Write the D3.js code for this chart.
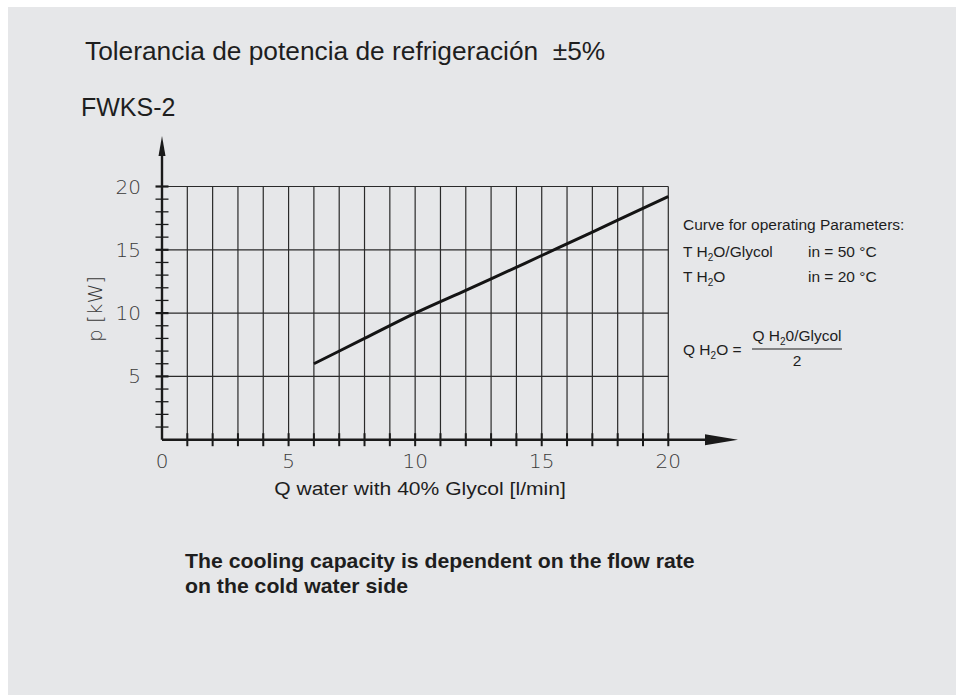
<!DOCTYPE html>
<html>
<head>
<meta charset="utf-8">
<script src="https://cdn.jsdelivr.net/npm/d3@7"></script>
<style>
  body { margin: 0; background: #fff; }
  svg { display: block; }
  .sans { font-family: "Liberation Sans", Arial, sans-serif; fill: #1e1e1e; }
  .tech { font-family: "DejaVu Sans ExtraLight", "DejaVu Sans", sans-serif; font-weight: 200; fill: #3a3a3a; }
</style>
</head>
<body>
<script>
// curve: flow [l/min] -> cooling power [kW]
var flow  = [6, 8, 10, 12, 13, 15, 17, 18, 20];
var power = [6, 8, 10, 11.8, 12.7, 14.55, 16.4, 17.35, 19.2];

var xTicks = [0, 5, 10, 15, 20];
var yTicks = [5, 10, 15, 20];

var width = 959, height = 695;

var svg = d3.select("body").append("svg")
  .attr("width", width)
  .attr("height", height);

svg.append("rect")
  .attr("x", 8).attr("y", 7)
  .attr("width", 948).attr("height", 688)
  .attr("fill", "#e6e7e9");

var x = d3.scaleLinear().domain([0, 20]).range([162, 668.3]);
var y = d3.scaleLinear().domain([0, 20]).range([439.7, 186.5]);

var g = svg.append("g");

// vertical grid, one per l/min
g.selectAll(".vgrid")
  .data(d3.range(1, 21))
  .enter().append("line")
  .attr("x1", function (d) { return x(d); })
  .attr("x2", function (d) { return x(d); })
  .attr("y1", y(0))
  .attr("y2", y(20))
  .attr("stroke", "#2a2a2a")
  .attr("stroke-width", 1.2);

// horizontal grid every 5 kW
g.selectAll(".hgrid")
  .data(yTicks)
  .enter().append("line")
  .attr("x1", x(0))
  .attr("x2", x(20))
  .attr("y1", function (d) { return y(d); })
  .attr("y2", function (d) { return y(d); })
  .attr("stroke", "#2a2a2a")
  .attr("stroke-width", 1.2);

// y minor / major ticks
g.selectAll(".ytick")
  .data(d3.range(1, 21))
  .enter().append("line")
  .attr("x1", x(0) - 6.5)
  .attr("x2", x(0) + 6.5)
  .attr("y1", function (d) { return y(d); })
  .attr("y2", function (d) { return y(d); })
  .attr("stroke", "#1a1a1a")
  .attr("stroke-width", function (d) { return d % 5 === 0 ? 2.2 : 1.3; });

// x ticks
g.selectAll(".xtick")
  .data(d3.range(1, 21))
  .enter().append("line")
  .attr("x1", function (d) { return x(d); })
  .attr("x2", function (d) { return x(d); })
  .attr("y1", y(0) - 6.5)
  .attr("y2", y(0) + 6.5)
  .attr("stroke", "#1a1a1a")
  .attr("stroke-width", 2);

// axes with arrows
g.append("line")
  .attr("x1", x(0)).attr("x2", 712)
  .attr("y1", y(0)).attr("y2", y(0))
  .attr("stroke", "#1a1a1a").attr("stroke-width", 2.4);
g.append("path")
  .attr("d", "M705," + (y(0) - 5.5) + "L738," + y(0) + "L705," + (y(0) + 5.5) + "Z")
  .attr("fill", "#1a1a1a");

g.append("line")
  .attr("x1", x(0)).attr("x2", x(0))
  .attr("y1", y(0)).attr("y2", 150)
  .attr("stroke", "#1a1a1a").attr("stroke-width", 2.4);
g.append("path")
  .attr("d", "M" + (x(0) - 3.5) + ",156L" + x(0) + ",136L" + (x(0) + 3.5) + ",156Z")
  .attr("fill", "#1a1a1a");

// curve
var line = d3.line()
  .x(function (d, i) { return x(flow[i]); })
  .y(function (d, i) { return y(power[i]); })
  .curve(d3.curveMonotoneX);

g.append("path")
  .datum(flow)
  .attr("d", line)
  .attr("fill", "none")
  .attr("stroke", "#141414")
  .attr("stroke-width", 3);

// tick labels
g.selectAll(".ylab")
  .data(yTicks)
  .enter().append("text")
  .attr("class", "tech")
  .attr("x", 141)
  .attr("y", function (d) { return y(d) + 7; })
  .attr("text-anchor", "end")
  .attr("font-size", 20)
  .text(function (d) { return d; });

g.selectAll(".xlab")
  .data(xTicks)
  .enter().append("text")
  .attr("class", "tech")
  .attr("x", function (d) { return x(d); })
  .attr("y", 468)
  .attr("text-anchor", "middle")
  .attr("font-size", 20)
  .text(function (d) { return d; });

svg.append("text")
  .attr("class", "tech")
  .attr("transform", "translate(102,309) rotate(-90)")
  .attr("text-anchor", "middle")
  .attr("font-size", 20)
  .text("p [kW]");

svg.append("text")
  .attr("class", "sans")
  .attr("transform", "translate(420,495) scale(1.11,1)")
  .attr("text-anchor", "middle")
  .attr("font-size", 19)
  .text("Q water with 40% Glycol [l/min]");

// headings
svg.append("text")
  .attr("class", "sans")
  .attr("x", 85).attr("y", 60)
  .attr("font-size", 26.3)
  .text("Tolerancia de potencia de refrigeración\u00a0 ±5%");

svg.append("text")
  .attr("class", "sans")
  .attr("x", 81).attr("y", 116)
  .attr("font-size", 25)
  .text("FWKS-2");

// operating parameters note
var note = svg.append("g").attr("class", "sans").attr("font-size", 15.5);

note.append("text").attr("x", 683).attr("y", 230).text("Curve for operating Parameters:");

var t1 = note.append("text").attr("x", 683).attr("y", 256.7);
t1.append("tspan").text("T H");
t1.append("tspan").attr("font-size", 10).attr("dy", 4).text("2");
t1.append("tspan").attr("dy", -4).text("O/Glycol");
note.append("text").attr("x", 808).attr("y", 256.7).text("in = 50 °C");

var t2 = note.append("text").attr("x", 683).attr("y", 281.7);
t2.append("tspan").text("T H");
t2.append("tspan").attr("font-size", 10).attr("dy", 4).text("2");
t2.append("tspan").attr("dy", -4).text("O");
note.append("text").attr("x", 808).attr("y", 281.7).text("in = 20 °C");

var t3 = note.append("text").attr("x", 683).attr("y", 355);
t3.append("tspan").text("Q H");
t3.append("tspan").attr("font-size", 10).attr("dy", 4).text("2");
t3.append("tspan").attr("dy", -4).text("O =");

var t4 = note.append("text").attr("x", 797).attr("y", 340.7).attr("text-anchor", "middle");
t4.append("tspan").text("Q H");
t4.append("tspan").attr("font-size", 10).attr("dy", 4).text("2");
t4.append("tspan").attr("dy", -4).text("0/Glycol");

note.append("line")
  .attr("x1", 752).attr("x2", 842)
  .attr("y1", 349).attr("y2", 349)
  .attr("stroke", "#1e1e1e").attr("stroke-width", 1.2);

note.append("text").attr("x", 797).attr("y", 365.7).attr("text-anchor", "middle").text("2");

// footnote
var foot = svg.append("g").attr("class", "sans")
  .attr("font-size", 19.5).attr("font-weight", "bold")
  .attr("transform", "translate(185,0) scale(1.09,1)");
foot.append("text").attr("x", 0).attr("y", 568.3).text("The cooling capacity is dependent on the flow rate");
foot.append("text").attr("x", 0).attr("y", 593.5).text("on the cold water side");
</script>
</body>
</html>
